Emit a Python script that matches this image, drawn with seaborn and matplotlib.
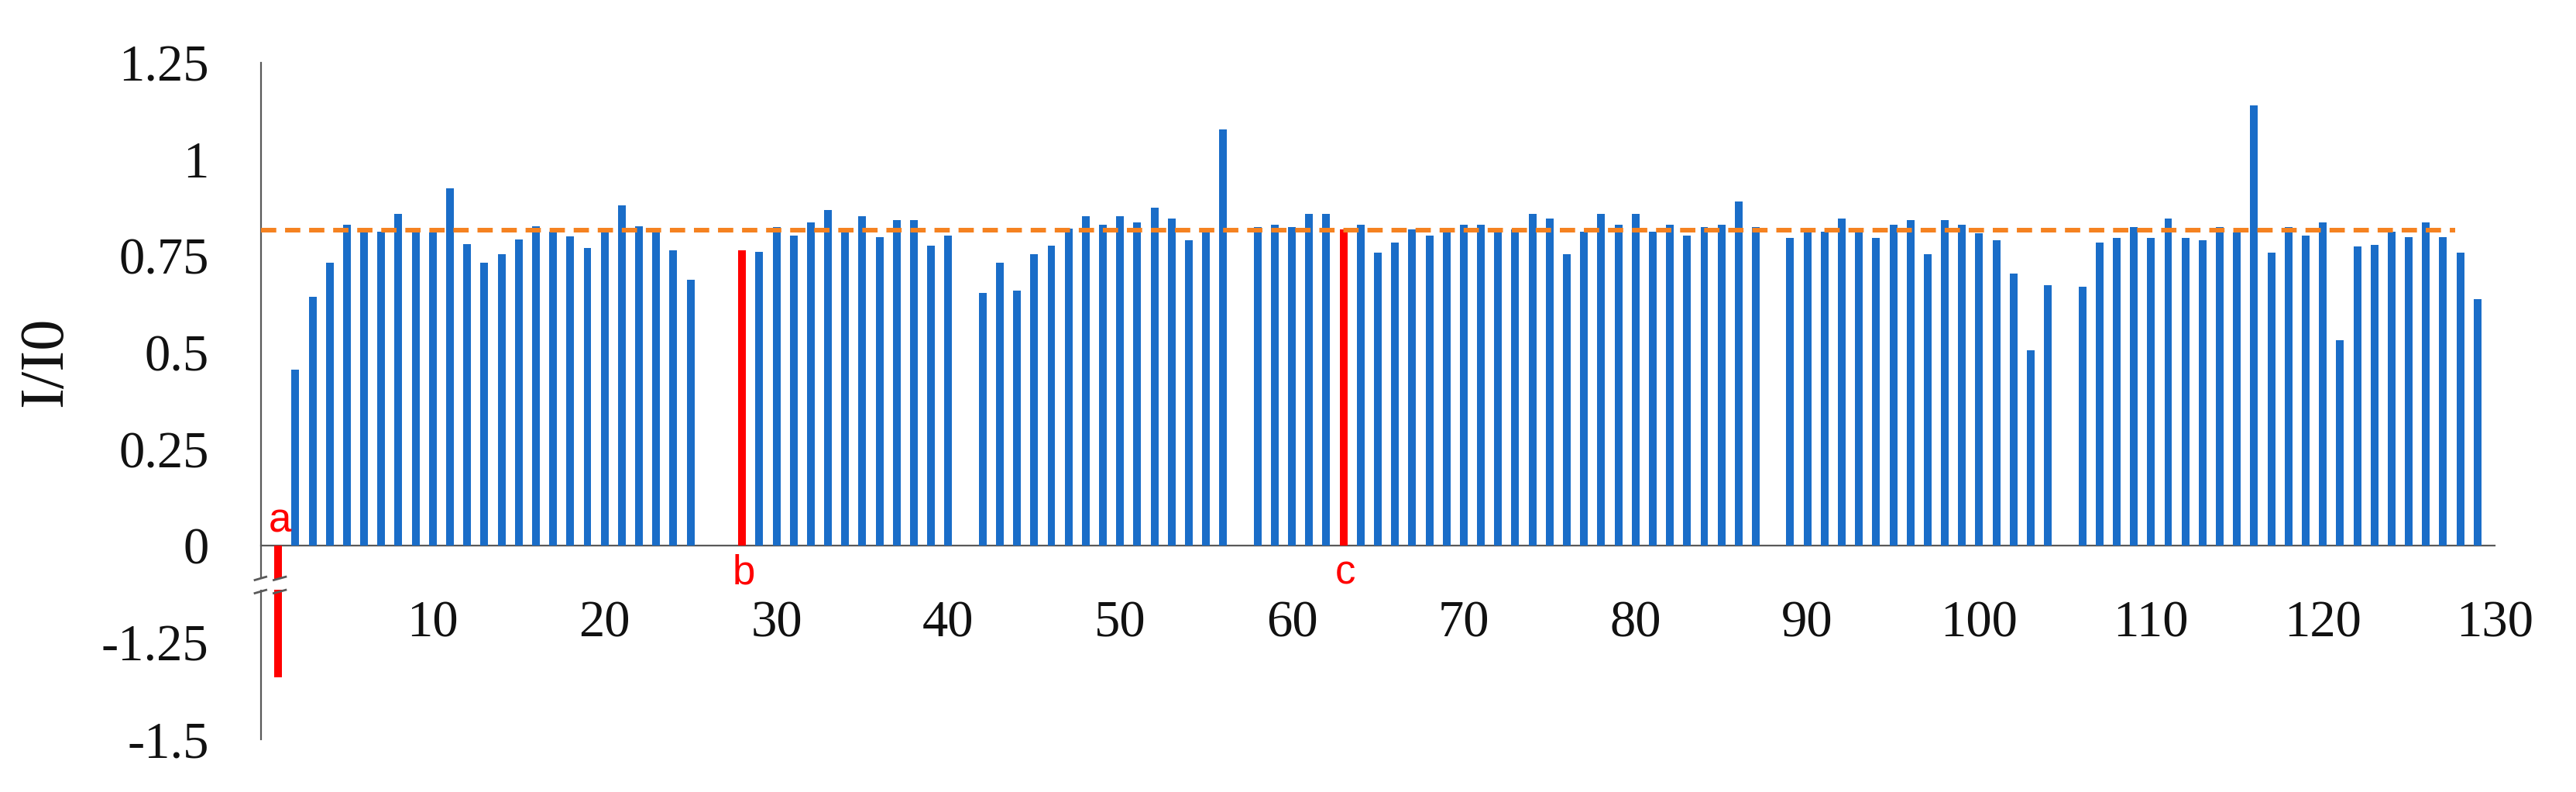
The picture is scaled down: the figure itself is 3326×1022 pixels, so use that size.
import numpy as np
import pandas as pd
import matplotlib
matplotlib.use("Agg")
import matplotlib.pyplot as plt
import seaborn as sns
from matplotlib.patches import Rectangle

# ---------------- data ----------------
positions = list(range(1, 130))
values = [
    -1.34, 0.456, 0.645, 0.733, 0.831, 0.812, 0.812, 0.859, 0.813, 0.810,   # 1-10
    0.924, 0.780, 0.732, 0.754, 0.793, 0.826, 0.812, 0.800, 0.771, 0.813,   # 11-20
    0.880, 0.826, 0.813, 0.765, 0.689, None, None, 0.764, 0.760, 0.825,     # 21-30
    0.803, 0.836, 0.869, 0.811, 0.852, 0.799, 0.842, 0.842, 0.776, 0.803,   # 31-40
    None, 0.655, 0.732, 0.661, 0.754, 0.776, 0.821, 0.852, 0.830, 0.852,    # 41-50
    0.836, 0.874, 0.847, 0.791, 0.813, 1.078, None, 0.825, 0.830, 0.825,    # 51-60
    0.858, 0.858, 0.818, 0.830, 0.759, 0.785, 0.818, 0.802, 0.813, 0.830,   # 61-70
    0.830, 0.818, 0.818, 0.858, 0.847, 0.754, 0.813, 0.858, 0.830, 0.858,   # 71-80
    0.813, 0.830, 0.802, 0.825, 0.830, 0.891, 0.825, None, 0.797, 0.813,    # 81-90
    0.813, 0.847, 0.813, 0.797, 0.830, 0.842, 0.754, 0.842, 0.830, 0.809,   # 91-100
    0.791, 0.704, 0.506, 0.675, None, 0.671, 0.785, 0.797, 0.825, 0.797,    # 101-110
    0.847, 0.797, 0.791, 0.825, 0.810, 1.139, 0.759, 0.825, 0.802, 0.836,   # 111-120
    0.533, 0.775, 0.779, 0.813, 0.798, 0.836, 0.798, 0.759, 0.638,          # 121-129
]
marked_positions = [1, 28, 63]
marked_labels = ["a", "b", "c"]
reference_level = 0.817
reference_end = 127.7
ytick_values = [-1.5, -1.25, 0, 0.25, 0.5, 0.75, 1, 1.25]
ytick_labels = ["-1.5", "-1.25", "0", "0.25", "0.5", "0.75", "1", "1.25"]
xtick_values = list(range(10, 131, 10))
y_label = "I/I0"

# broken axis: negative values are shifted up by one unit
BREAK_SHIFT = 1.0


def to_axis(v):
    return v + BREAK_SHIFT if v < 0 else v


BLUE = "#1A6DC8"
RED = "#FF0000"
ORANGE = "#F58220"
AXIS_GREY = "#595959"

rows = []
for p, v in zip(positions, values):
    if v is None:
        continue
    rows.append({"x": p, "y": to_axis(v),
                 "group": "marked" if p in marked_positions else "normal"})
df = pd.DataFrame(rows)

# ---------------- figure ----------------
sns.set_style("white")
plt.rcParams["font.family"] = ["Liberation Serif", "DejaVu Serif"]

W, H = 3326, 1022
fig = plt.figure(figsize=(W / 100, H / 100), dpi=100)
ax = fig.add_axes([337 / W, 1 - 954 / H, (3221 - 337) / W, (954 - 80.7) / H])

sns.barplot(data=df, x="x", y="y", hue="group",
            palette={"normal": BLUE, "marked": RED},
            native_scale=True, width=0.45, dodge=False, legend=False,
            errorbar=None, saturation=1, linewidth=0, ax=ax, zorder=3)

ax.hlines(reference_level, 0, reference_end, colors=ORANGE, linewidth=4.3,
          linestyles=(0, (3.3, 1.9)), zorder=4)

ax.set_xlim(0, 130)
ax.set_ylim(-0.5, 1.25)
ax.set_xlabel("")
ax.set_ylabel("")

ax.set_yticks([to_axis(v) for v in ytick_values])
ax.set_yticklabels(ytick_labels)
ax.set_xticks(xtick_values)
ax.set_xticklabels([str(v) for v in xtick_values])

sns.despine(ax=ax)
ax.spines["bottom"].set_position(("data", 0))
for s in ("left", "bottom"):
    ax.spines[s].set_color(AXIS_GREY)
    ax.spines[s].set_linewidth(1.6)
ax.tick_params(axis="both", direction="out", length=14.5, width=1.6,
               color=AXIS_GREY, labelsize=48, labelcolor="#111111")
ax.tick_params(axis="x", pad=36)
ax.tick_params(axis="y", pad=34)

fig.text(60 / W, 1 - 467 / H, y_label, rotation=90, ha="center", va="center",
         fontsize=58, color="#111111")

# labels for highlighted bars
for p, lab in zip(marked_positions, marked_labels):
    v = values[positions.index(p)]
    ly = 0.064 if v < 0 else -0.071
    ax.text(p + 0.1, ly, lab, color=RED, ha="center", va="center",
            fontsize=38, family=["Liberation Sans", "DejaVu Sans"], zorder=6)

# axis break (white gap + slashes)
ax.add_patch(Rectangle((-1.2, -0.113), 3.0, 0.028, facecolor="white",
                       edgecolor="none", clip_on=False, zorder=5))
for yc in (-0.084, -0.118):
    for x0, x1 in ((-0.42, 0.36), (0.68, 1.5)):
        ax.plot([x0, x1], [yc - 0.005, yc + 0.005], color=AXIS_GREY,
                linewidth=2.0, clip_on=False, zorder=6,
                solid_capstyle="butt")

fig.savefig("out.png", dpi=100, facecolor="white")
